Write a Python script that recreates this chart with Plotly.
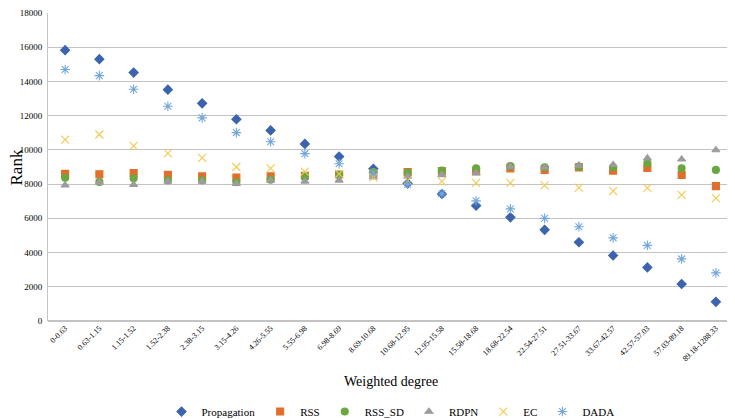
import plotly.graph_objects as go

categories = ["0-0.63", "0.63-1.15", "1.15-1.52", "1.52-2.38", "2.38-3.15", "3.15-4.26",
              "4.26-5.55", "5.55-6.98", "6.98-8.69", "8.69-10.68", "10.68-12.95", "12.95-15.58",
              "15.58-18.68", "18.68-22.54", "22.54-27.51", "27.51-33.67", "33.67-42.57",
              "42.57-57.03", "57.03-89.18", "89.18-1288.33"]

propagation = [15830, 15300, 14520, 13520, 12720, 11790, 11140, 10350, 9610, 8900,
               8040, 7420, 6740, 6060, 5330, 4600, 3830, 3130, 2160, 1120]
rss = [8600, 8580, 8640, 8540, 8450, 8390, 8450, 8490, 8560, 8640,
       8700, 8770, 8750, 8920, 8830, 8980, 8790, 8940, 8530, 7880]
rss_sd = [8370, 8130, 8340, 8220, 8220, 8110, 8260, 8450, 8530, 8700,
          8680, 8790, 8920, 9060, 8980, 9020, 8980, 9230, 8920, 8830]
rdpn = [7940, 8100, 7970, 8160, 8160, 8030, 8220, 8160, 8220, 8410,
        8450, 8540, 8640, 9020, 8980, 9090, 9130, 9510, 9450, 9990]
ec = [10600, 10900, 10240, 9800, 9530, 9000, 8920, 8730, 8600, 8400,
      8200, 8160, 8070, 8070, 7920, 7800, 7590, 7780, 7370, 7180]
dada = [14700, 14340, 13540, 12550, 11870, 11010, 10480, 9780, 9190, 8650,
        7980, 7440, 7020, 6550, 6000, 5510, 4860, 4420, 3630, 2810]

FONT = "Liberation Serif, Times New Roman, serif"

series = [
    ("Propagation", propagation, "diamond", "#3C64AE", 7),
    ("RSS", rss, "square", "#E06F2C", 7),
    ("RSS_SD", rss_sd, "circle", "#6AA83F", 7),
    ("RDPN", rdpn, "triangle-up", "#9C9C9C", 7),
    ("EC", ec, "x-thin-open", "#F3C94E", 8),
    ("DADA", dada, "asterisk-open", "#74A7DA", 8),
]

fig = go.Figure()
for name, vals, sym, col, sz in series:
    fig.add_trace(go.Scatter(
        x=categories, y=vals, mode="markers", name=name,
        marker=dict(symbol=sym, color=col, size=sz,
                    line=dict(color=col, width=1.1)),
    ))

# the page has an 8px body margin, so the figure is sized to fit inside it
fig.update_layout(
    width=727, height=411,
    margin=dict(l=40, r=2, t=5, b=98, autoexpand=False),
    paper_bgcolor="white", plot_bgcolor="white",
    font=dict(family=FONT, color="#000000"),
    showlegend=True,
    legend=dict(orientation="h", x=0.5, xanchor="center", y=-0.294, yanchor="middle",
                font=dict(size=11, family=FONT), itemwidth=30, tracegroupgap=0),
    xaxis=dict(type="category", tickangle=-45, tickfont=dict(size=8, family=FONT),
               range=[-0.5, 19.5], automargin=False,
               showgrid=False, showline=False, ticks="", zeroline=False),
    yaxis=dict(range=[0, 18000], dtick=2000, tickfont=dict(size=9, family=FONT),
               automargin=False, ticklabelstandoff=3,
               showgrid=True, gridcolor="#C3C3C3", gridwidth=1,
               showline=True, linecolor="#C3C3C3", zeroline=True, zerolinecolor="#C3C3C3",
               ticks="", tickformat="d"),
    annotations=[
        dict(text="Weighted degree", xref="paper", yref="paper", x=0.5, y=-0.197,
             xanchor="center", yanchor="middle", showarrow=False,
             font=dict(size=14, family=FONT)),
        dict(text="Rank", xref="paper", yref="paper", x=-0.046, y=0.5, textangle=-90,
             xanchor="center", yanchor="middle", showarrow=False,
             font=dict(size=17, family=FONT)),
    ],
)

fig.write_html("out.html")
